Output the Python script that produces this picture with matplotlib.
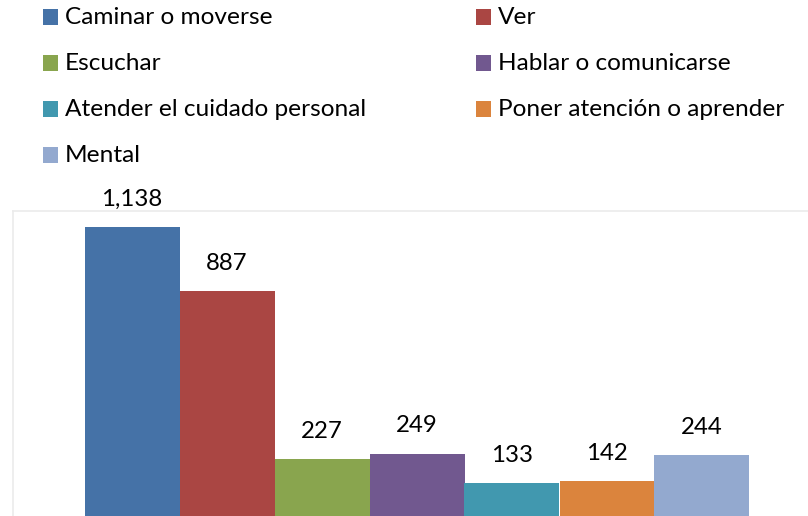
import matplotlib
matplotlib.use('Agg')
import matplotlib.pyplot as plt
from matplotlib.patches import Rectangle

categories = ['Caminar o moverse', 'Ver', 'Escuchar', 'Hablar o comunicarse',
              'Atender el cuidado personal', 'Poner atención o aprender', 'Mental']
values = [1138, 887, 227, 249, 133, 142, 244]
colors = ['#4572A7', '#AA4643', '#89A54E', '#71588F', '#4198AF', '#DB843D', '#93A9CF']

plt.rcParams['font.family'] = ['Lato', 'DejaVu Sans']

W, H = 808, 516
fig = plt.figure(figsize=(W / 100, H / 100), dpi=100)

# axes frame: left edge at 13px, top at 211px, runs off the right and bottom
left_px, top_px, right_px, base_px = 13, 211, 830, 517
ax = fig.add_axes([left_px / W, (H - base_px) / H,
                   (right_px - left_px) / W, (base_px - top_px) / H])

x = list(range(len(values)))
ax.bar(x, values, width=1.0, color=colors, linewidth=0)
for xi, v in zip(x, values):
    ax.annotate(f'{v:,}', (xi, v), xytext=(0, 20), textcoords='offset points',
                ha='center', va='center', fontsize=17.3, color='#000000')

ax.set_xlim(-119 / 95, (right_px - 132) / 95)
ax.set_ylim(0, (base_px - top_px) / 0.2548)
ax.set_xticks([])
ax.set_yticks([])
for s in ax.spines.values():
    s.set_color('#EBEBEB')
    s.set_linewidth(1.2)

# legend, two columns
col_x = [43, 476]
for i, (lab, c) in enumerate(zip(categories, colors)):
    cx = col_x[i % 2]
    cy = 17 + 46 * (i // 2)
    fig.patches.append(Rectangle((cx / W, (H - cy - 7.5) / H), 15 / W, 15 / H,
                                 transform=fig.transFigure, facecolor=c,
                                 edgecolor='none'))
    fig.text((cx + 22) / W, (H - cy) / H, lab, ha='left', va='center',
             fontsize=17.6, color='#000000')

fig.savefig('out.png', dpi=100)
